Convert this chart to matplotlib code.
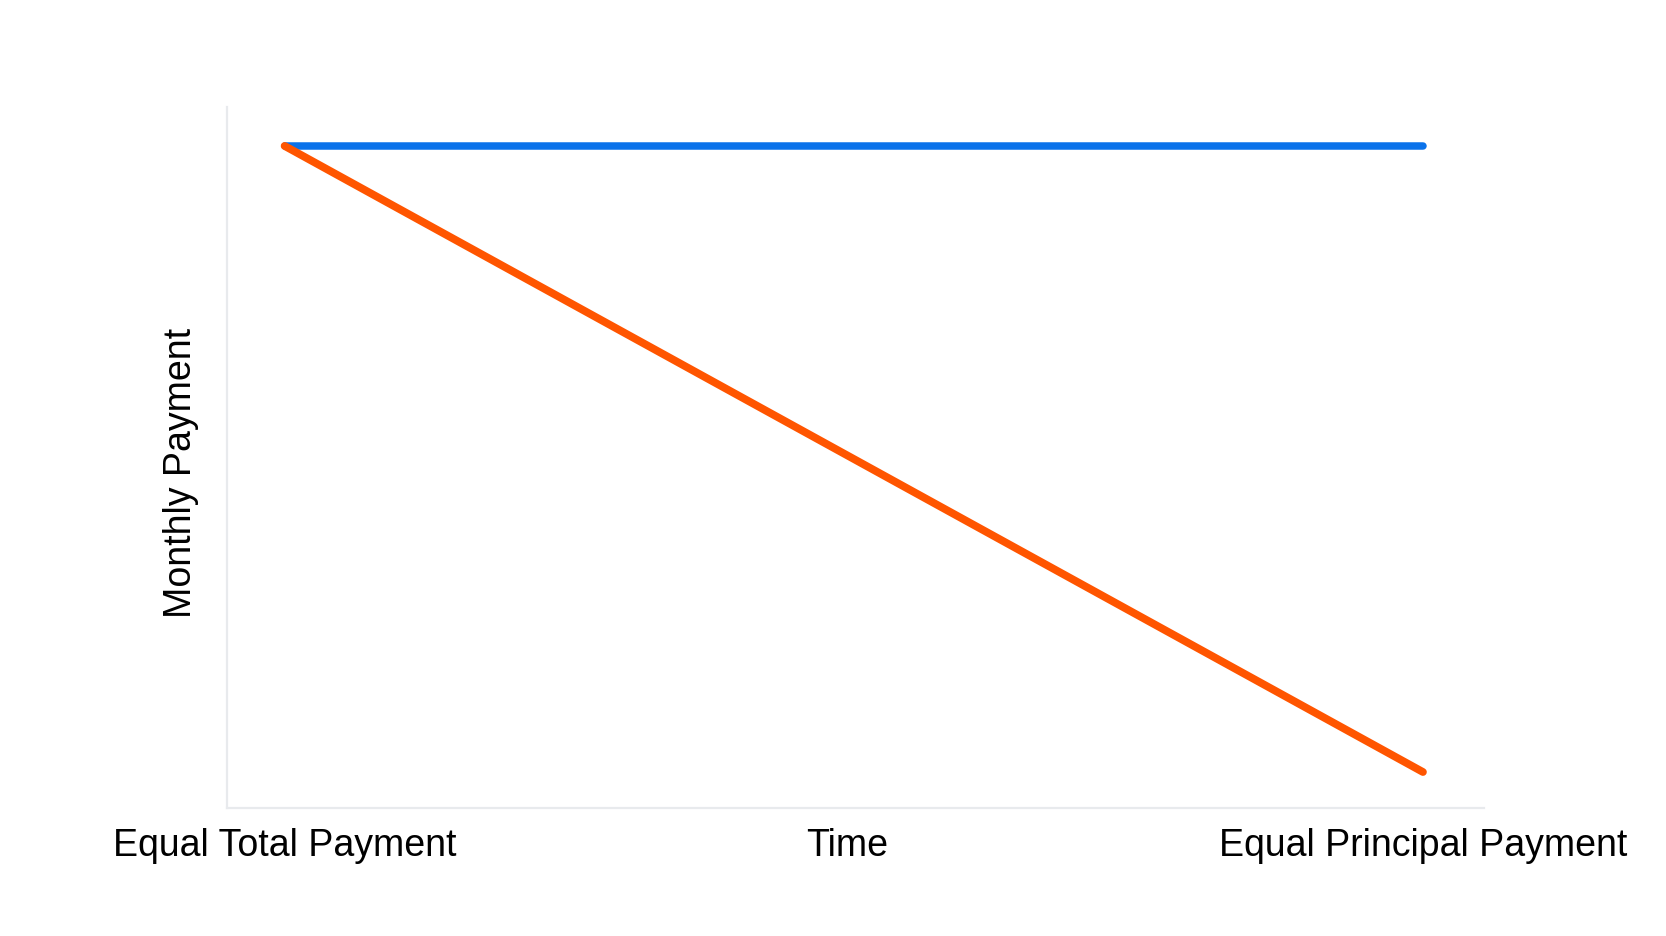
import numpy as np
import matplotlib.pyplot as plt

# ================= DATA =================
# normalised time from start to end of loan
time_points = [0.0, 1.0]
equal_total = [1.0, 1.0]       # constant monthly payment
equal_principal = [1.0, 0.0]   # declining monthly payment
tick_positions = [0.0, 0.494, 1.0]
tick_labels = ['Equal Total Payment', 'Time', 'Equal Principal Payment']
# ========================================

plt.rcParams['font.family'] = ['Liberation Sans', 'DejaVu Sans']

fig = plt.figure(figsize=(16.66, 9.37), dpi=100)
ax = fig.add_axes([0.136, 0.1366, 0.755, 0.748])

ax.plot(time_points, equal_total, color='#0a72ea', linewidth=5.4,
        solid_capstyle='round', zorder=3)
ax.plot(time_points, equal_principal, color='#ff5500', linewidth=5.6,
        solid_capstyle='round', zorder=4)

ax.set_xlim(-0.051, 1.054)
ax.set_ylim(-0.0575, 1.062)

ax.set_xticks(tick_positions)
ax.set_xticklabels(tick_labels, fontsize=27)
ax.tick_params(axis='x', length=0, pad=14)
ax.set_yticks([])

ax.set_ylabel('Monthly Payment', fontsize=27)
ax.yaxis.set_label_coords(-0.022, 0.479)

for side in ['top', 'right']:
    ax.spines[side].set_visible(False)
for side in ['left', 'bottom']:
    ax.spines[side].set_color('#e8eaed')
    ax.spines[side].set_linewidth(1.6)

fig.savefig('out.png', dpi=100, facecolor='white')
